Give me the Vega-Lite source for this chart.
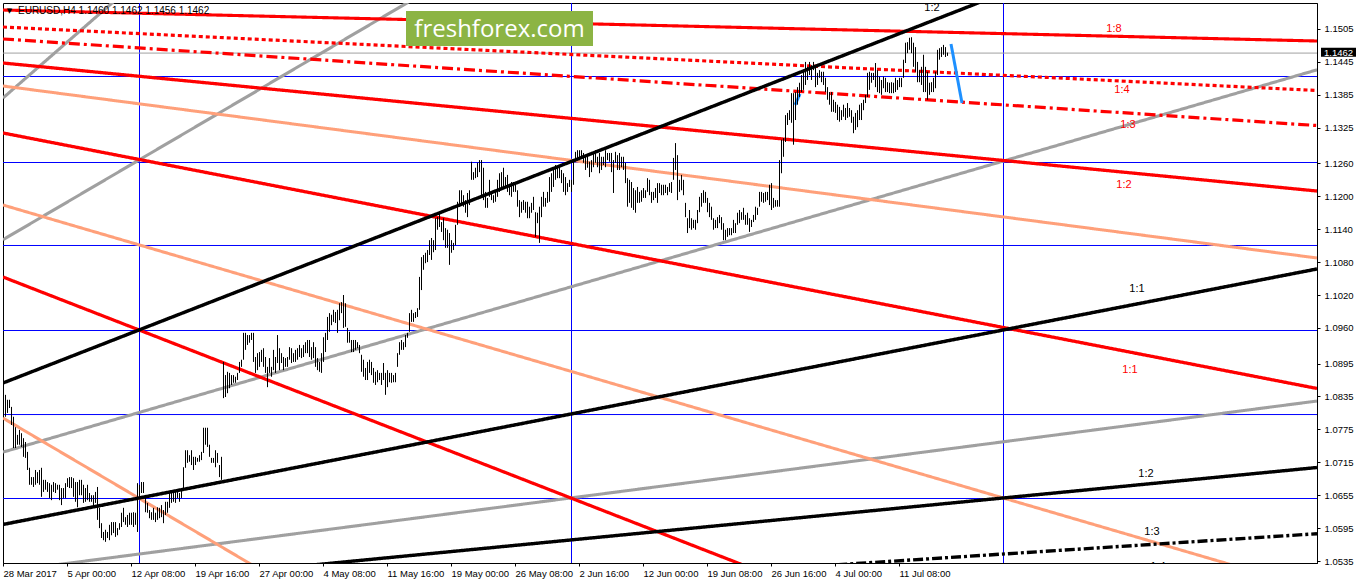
{
  "$schema": "https://vega.github.io/schema/vega-lite/v6.json",
  "width": 1314,
  "height": 560,
  "autosize": {"type": "none"},
  "padding": {"left": 3, "top": 3, "right": 41, "bottom": 21},
  "background": "white",
  "config": {
    "view": {"stroke": "black", "strokeWidth": 1},
    "axis": {"domainColor": "black", "tickColor": "black", "tickSize": 3, "labelFont": "Liberation Sans", "labelFontSize": 9.5, "labelColor": "black", "grid": false, "labelOverlap": false, "labelFlush": false, "labelBound": false}
  },
  "datasets": {
    "hlev": [
      {"p": 1.14193, "s": "blue"}, {"p": 1.12625, "s": "blue"}, {"p": 1.11112, "s": "blue"},
      {"p": 1.09562, "s": "blue"}, {"p": 1.0803, "s": "blue"}, {"p": 1.06499, "s": "blue"},
      {"p": 1.1462, "s": "gray"}
    ],
    "vlev": [{"b": 68}, {"b": 284}, {"b": 500}],
    "seg": [
      {"s": "gray", "b1": 0, "p1": 1.07336, "b2": 657, "p2": 1.14306},
      {"s": "gray", "b1": 0, "p1": 1.05155, "b2": 657, "p2": 1.08267},
      {"s": "gray", "b1": 0, "p1": 1.13792, "b2": 62, "p2": 1.15761},
      {"s": "gray", "b1": 0, "p1": 1.11208, "b2": 213, "p2": 1.15761},
      {"s": "salmon", "b1": 0, "p1": 1.14011, "b2": 657, "p2": 1.10875},
      {"s": "salmon", "b1": 0, "p1": 1.07957, "b2": 130, "p2": 1.05162},
      {"s": "salmon", "b1": 0, "p1": 1.11841, "b2": 657, "p2": 1.04824},
      {"s": "red1", "b1": 0, "p1": 1.15396, "b2": 657, "p2": 1.14831},
      {"s": "reddot", "b1": 0, "p1": 1.15086, "b2": 657, "p2": 1.13929},
      {"s": "reddd", "b1": 0, "p1": 1.14868, "b2": 657, "p2": 1.1329},
      {"s": "red3", "b1": 0, "p1": 1.1443, "b2": 657, "p2": 1.12096},
      {"s": "red35", "b1": 0, "p1": 1.13154, "b2": 657, "p2": 1.08496},
      {"s": "red25", "b1": 0, "p1": 1.10528, "b2": 380, "p2": 1.05136},
      {"s": "blk35", "b1": 0, "p1": 1.06017, "b2": 657, "p2": 1.10675},
      {"s": "blk3", "b1": 0, "p1": 1.08596, "b2": 657, "p2": 1.17934},
      {"s": "blk25", "b1": 0, "p1": 1.04729, "b2": 657, "p2": 1.07055},
      {"s": "blkdd", "b1": 0, "p1": 1.04297, "b2": 657, "p2": 1.05848},
      {"s": "lblue", "b1": 474, "p1": 1.14777, "b2": 479.5, "p2": 1.13701},
      {"s": "lblue", "b1": 396, "p1": 1.13665, "b2": 398.5, "p2": 1.13865}
    ],
    "ann": [
      {"s": "blk1", "b": 464.5, "p": 1.15424, "t": "1:2"},
      {"s": "red1", "b": 555.5, "p": 1.1505, "t": "1:8"},
      {"s": "red1", "b": 559.5, "p": 1.13938, "t": "1:4"},
      {"s": "red1", "b": 562.5, "p": 1.13291, "t": "1:3"},
      {"s": "red1", "b": 560.5, "p": 1.12206, "t": "1:2"},
      {"s": "blk1", "b": 567, "p": 1.10309, "t": "1:1"},
      {"s": "red1", "b": 563.5, "p": 1.08833, "t": "1:1"},
      {"s": "blk1", "b": 571.5, "p": 1.06937, "t": "1:2"},
      {"s": "blk1", "b": 574.5, "p": 1.05879, "t": "1:3"},
      {"s": "blk1", "b": 577.5, "p": 1.05241, "t": "1:4"}
    ],
    "bars": [
      {"b":0,"h":1.0856,"l":1.0798},{"b":1,"h":1.0838,"l":1.0798},{"b":2,"h":1.0829,"l":1.0805},{"b":3,"h":1.0829,"l":1.0814},
      {"b":4,"h":1.0816,"l":1.0783},{"b":5,"h":1.0798,"l":1.0741},{"b":6,"h":1.0779,"l":1.0741},{"b":7,"h":1.0765,"l":1.0747},
      {"b":8,"h":1.0774,"l":1.0747},{"b":9,"h":1.0768,"l":1.0743},{"b":10,"h":1.0759,"l":1.0725},{"b":11,"h":1.0752,"l":1.0723},
      {"b":12,"h":1.0734,"l":1.0701},{"b":13,"h":1.0705,"l":1.0674},{"b":14,"h":1.0688,"l":1.0674},{"b":15,"h":1.0688,"l":1.067},
      {"b":16,"h":1.0701,"l":1.0674},{"b":17,"h":1.0697,"l":1.0677},{"b":18,"h":1.0701,"l":1.0674},{"b":19,"h":1.0705,"l":1.0652},
      {"b":20,"h":1.0683,"l":1.0661},{"b":21,"h":1.0683,"l":1.0665},{"b":22,"h":1.0679,"l":1.0661},{"b":23,"h":1.0677,"l":1.065},
      {"b":24,"h":1.0674,"l":1.0646},{"b":25,"h":1.0679,"l":1.0661},{"b":26,"h":1.0677,"l":1.0659},{"b":27,"h":1.0674,"l":1.0665},
      {"b":28,"h":1.0674,"l":1.0646},{"b":29,"h":1.0668,"l":1.0637},{"b":30,"h":1.0668,"l":1.065},{"b":31,"h":1.0677,"l":1.065},
      {"b":32,"h":1.0686,"l":1.067},{"b":33,"h":1.0688,"l":1.0668},{"b":34,"h":1.0688,"l":1.0668},{"b":35,"h":1.0686,"l":1.0652},
      {"b":36,"h":1.0679,"l":1.0643},{"b":37,"h":1.0679,"l":1.0633},{"b":38,"h":1.0683,"l":1.0655},{"b":39,"h":1.0683,"l":1.0655},
      {"b":40,"h":1.0674,"l":1.0641},{"b":41,"h":1.0668,"l":1.0643},{"b":42,"h":1.0674,"l":1.0646},{"b":43,"h":1.0659,"l":1.0643},
      {"b":44,"h":1.0655,"l":1.0643},{"b":45,"h":1.0655,"l":1.0633},{"b":46,"h":1.0661,"l":1.0641},{"b":47,"h":1.067,"l":1.061},
      {"b":48,"h":1.0632,"l":1.0595},{"b":49,"h":1.0604,"l":1.0577},{"b":50,"h":1.0588,"l":1.0573},{"b":51,"h":1.0592,"l":1.057},
      {"b":52,"h":1.0588,"l":1.0577},{"b":53,"h":1.0601,"l":1.0573},{"b":54,"h":1.0606,"l":1.0582},{"b":55,"h":1.0606,"l":1.0586},
      {"b":56,"h":1.0606,"l":1.0579},{"b":57,"h":1.0595,"l":1.0582},{"b":58,"h":1.0604,"l":1.0592},{"b":59,"h":1.0623,"l":1.0597},
      {"b":60,"h":1.0632,"l":1.0606},{"b":61,"h":1.0615,"l":1.0601},{"b":62,"h":1.0619,"l":1.0597},{"b":63,"h":1.0623,"l":1.0601},
      {"b":64,"h":1.0623,"l":1.0601},{"b":65,"h":1.0624,"l":1.0597},{"b":66,"h":1.0623,"l":1.0601},{"b":67,"h":1.0677,"l":1.0588},
      {"b":68,"h":1.0674,"l":1.0652},{"b":69,"h":1.0679,"l":1.0659},{"b":70,"h":1.0679,"l":1.0659},{"b":71,"h":1.065,"l":1.0624},
      {"b":72,"h":1.0641,"l":1.0623},{"b":73,"h":1.0628,"l":1.0613},{"b":74,"h":1.0624,"l":1.061},{"b":75,"h":1.0632,"l":1.061},
      {"b":76,"h":1.0623,"l":1.0606},{"b":77,"h":1.0633,"l":1.061},{"b":78,"h":1.0632,"l":1.0613},{"b":79,"h":1.0637,"l":1.0615},
      {"b":80,"h":1.0628,"l":1.0604},{"b":81,"h":1.0643,"l":1.0619},{"b":82,"h":1.0643,"l":1.0623},{"b":83,"h":1.0659,"l":1.0632},
      {"b":84,"h":1.0661,"l":1.0641},{"b":85,"h":1.0661,"l":1.0643},{"b":86,"h":1.0661,"l":1.0641},{"b":87,"h":1.0661,"l":1.065},
      {"b":88,"h":1.0659,"l":1.0643},{"b":89,"h":1.0665,"l":1.065},{"b":90,"h":1.0706,"l":1.0665},{"b":91,"h":1.0737,"l":1.0705},
      {"b":92,"h":1.0737,"l":1.0714},{"b":93,"h":1.0728,"l":1.0716},{"b":94,"h":1.0737,"l":1.071},{"b":95,"h":1.0725,"l":1.0701},
      {"b":96,"h":1.0725,"l":1.071},{"b":97,"h":1.0723,"l":1.0716},{"b":98,"h":1.0728,"l":1.0716},{"b":99,"h":1.0734,"l":1.0719},
      {"b":100,"h":1.0778,"l":1.0732},{"b":101,"h":1.0778,"l":1.0747},{"b":102,"h":1.0778,"l":1.0743},{"b":103,"h":1.0747,"l":1.0725},
      {"b":104,"h":1.0723,"l":1.0714},{"b":105,"h":1.0723,"l":1.0714},{"b":106,"h":1.0737,"l":1.0706},{"b":107,"h":1.0732,"l":1.0714},
      {"b":108,"h":1.071,"l":1.0688},{"b":109,"h":1.0725,"l":1.0683},{"b":110,"h":1.0898,"l":1.0832},{"b":111,"h":1.0874,"l":1.0834},
      {"b":112,"h":1.088,"l":1.0841},{"b":113,"h":1.0878,"l":1.085},{"b":114,"h":1.0874,"l":1.0856},{"b":115,"h":1.0874,"l":1.086},
      {"b":116,"h":1.0871,"l":1.086},{"b":117,"h":1.0878,"l":1.0865},{"b":118,"h":1.0898,"l":1.0878},{"b":119,"h":1.0902,"l":1.0889},
      {"b":120,"h":1.0951,"l":1.0902},{"b":121,"h":1.0951,"l":1.092},{"b":122,"h":1.0947,"l":1.0929},{"b":123,"h":1.0947,"l":1.0933},
      {"b":124,"h":1.0951,"l":1.0938},{"b":125,"h":1.0951,"l":1.0898},{"b":126,"h":1.0907,"l":1.0878},{"b":127,"h":1.0914,"l":1.0883},
      {"b":128,"h":1.0916,"l":1.0889},{"b":129,"h":1.092,"l":1.0898},{"b":130,"h":1.0923,"l":1.0889},{"b":131,"h":1.0907,"l":1.0878},
      {"b":132,"h":1.0889,"l":1.0852},{"b":133,"h":1.0905,"l":1.0878},{"b":134,"h":1.0889,"l":1.0871},{"b":135,"h":1.092,"l":1.0883},
      {"b":136,"h":1.0907,"l":1.0878},{"b":137,"h":1.0947,"l":1.0896},{"b":138,"h":1.0923,"l":1.0883},{"b":139,"h":1.0914,"l":1.0896},
      {"b":140,"h":1.0907,"l":1.0883},{"b":141,"h":1.0905,"l":1.0889},{"b":142,"h":1.0907,"l":1.0889},{"b":143,"h":1.0925,"l":1.0902},
      {"b":144,"h":1.0923,"l":1.0896},{"b":145,"h":1.0914,"l":1.0898},{"b":146,"h":1.092,"l":1.0898},{"b":147,"h":1.0923,"l":1.0902},
      {"b":148,"h":1.0929,"l":1.0907},{"b":149,"h":1.0923,"l":1.0905},{"b":150,"h":1.0929,"l":1.0907},{"b":151,"h":1.0934,"l":1.0914},
      {"b":152,"h":1.0938,"l":1.0914},{"b":153,"h":1.0938,"l":1.0907},{"b":154,"h":1.0925,"l":1.0902},{"b":155,"h":1.0934,"l":1.0905},
      {"b":156,"h":1.0925,"l":1.0889},{"b":157,"h":1.0905,"l":1.0883},{"b":158,"h":1.0898,"l":1.088},{"b":159,"h":1.0914,"l":1.0878},
      {"b":160,"h":1.0943,"l":1.0898},{"b":161,"h":1.0951,"l":1.0916},{"b":162,"h":1.098,"l":1.0938},{"b":163,"h":1.0987,"l":1.0953},
      {"b":164,"h":1.0984,"l":1.0965},{"b":165,"h":1.0993,"l":1.0971},{"b":166,"h":1.0989,"l":1.0969},{"b":167,"h":1.0993,"l":1.0951},
      {"b":168,"h":1.1005,"l":1.0974},{"b":169,"h":1.1007,"l":1.0987},{"b":170,"h":1.102,"l":1.096},{"b":171,"h":1.1005,"l":1.0962},
      {"b":172,"h":1.096,"l":1.0933},{"b":173,"h":1.0953,"l":1.0933},{"b":174,"h":1.0938,"l":1.0916},{"b":175,"h":1.0938,"l":1.0916},
      {"b":176,"h":1.0938,"l":1.092},{"b":177,"h":1.0934,"l":1.0923},{"b":178,"h":1.0929,"l":1.0914},{"b":179,"h":1.0911,"l":1.088},
      {"b":180,"h":1.0902,"l":1.0871},{"b":181,"h":1.0887,"l":1.0865},{"b":182,"h":1.0898,"l":1.0865},{"b":183,"h":1.0902,"l":1.0878},
      {"b":184,"h":1.0898,"l":1.0874},{"b":185,"h":1.0887,"l":1.086},{"b":186,"h":1.088,"l":1.0856},{"b":187,"h":1.0883,"l":1.0861},
      {"b":188,"h":1.0878,"l":1.0865},{"b":189,"h":1.0878,"l":1.0856},{"b":190,"h":1.0896,"l":1.0865},{"b":191,"h":1.0878,"l":1.0838},
      {"b":192,"h":1.0883,"l":1.0852},{"b":193,"h":1.0878,"l":1.0861},{"b":194,"h":1.0878,"l":1.086},{"b":195,"h":1.0874,"l":1.0861},
      {"b":196,"h":1.0878,"l":1.0861},{"b":197,"h":1.0914,"l":1.0889},{"b":198,"h":1.0934,"l":1.0911},{"b":199,"h":1.0938,"l":1.092},
      {"b":200,"h":1.0934,"l":1.092},{"b":201,"h":1.0947,"l":1.0925},{"b":202,"h":1.0951,"l":1.0942},{"b":203,"h":1.0987,"l":1.0953},
      {"b":204,"h":1.0993,"l":1.0971},{"b":205,"h":1.0987,"l":1.0971},{"b":206,"h":1.0989,"l":1.0978},{"b":207,"h":1.0996,"l":1.098},
      {"b":208,"h":1.1053,"l":1.0993},{"b":209,"h":1.1089,"l":1.1029},{"b":210,"h":1.1093,"l":1.1066},{"b":211,"h":1.1097,"l":1.1078},
      {"b":212,"h":1.1102,"l":1.108},{"b":213,"h":1.112,"l":1.1093},{"b":214,"h":1.1124,"l":1.1084},{"b":215,"h":1.112,"l":1.1098},
      {"b":216,"h":1.116,"l":1.1102},{"b":217,"h":1.1162,"l":1.1139},{"b":218,"h":1.1171,"l":1.1144},{"b":219,"h":1.1153,"l":1.1135},
      {"b":220,"h":1.116,"l":1.112},{"b":221,"h":1.1142,"l":1.1106},{"b":222,"h":1.1139,"l":1.1106},{"b":223,"h":1.1133,"l":1.1075},
      {"b":224,"h":1.112,"l":1.1097},{"b":225,"h":1.1115,"l":1.1102},{"b":226,"h":1.1148,"l":1.1111},{"b":227,"h":1.119,"l":1.1148},
      {"b":228,"h":1.1211,"l":1.1181},{"b":229,"h":1.1211,"l":1.1184},{"b":230,"h":1.1202,"l":1.1181},{"b":231,"h":1.1193,"l":1.117},
      {"b":232,"h":1.1206,"l":1.1162},{"b":233,"h":1.1211,"l":1.1184},{"b":234,"h":1.1263,"l":1.123},{"b":235,"h":1.1244,"l":1.123},
      {"b":236,"h":1.1252,"l":1.1233},{"b":237,"h":1.1261,"l":1.1235},{"b":238,"h":1.1266,"l":1.1244},{"b":239,"h":1.1266,"l":1.1202},
      {"b":240,"h":1.1252,"l":1.1193},{"b":241,"h":1.1208,"l":1.1179},{"b":242,"h":1.1197,"l":1.1179},{"b":243,"h":1.123,"l":1.1199},
      {"b":244,"h":1.1208,"l":1.1193},{"b":245,"h":1.1202,"l":1.1188},{"b":246,"h":1.1211,"l":1.119},{"b":247,"h":1.123,"l":1.1199},
      {"b":248,"h":1.1242,"l":1.1208},{"b":249,"h":1.1244,"l":1.1217},{"b":250,"h":1.1252,"l":1.1217},{"b":251,"h":1.1235,"l":1.1215},
      {"b":252,"h":1.1239,"l":1.1208},{"b":253,"h":1.1217,"l":1.1202},{"b":254,"h":1.1226,"l":1.1199},{"b":255,"h":1.1226,"l":1.1208},
      {"b":256,"h":1.1226,"l":1.1208},{"b":257,"h":1.1211,"l":1.1181},{"b":258,"h":1.1193,"l":1.1162},{"b":259,"h":1.119,"l":1.117},
      {"b":260,"h":1.1193,"l":1.1175},{"b":261,"h":1.119,"l":1.117},{"b":262,"h":1.119,"l":1.116},{"b":263,"h":1.1181,"l":1.116},
      {"b":264,"h":1.1188,"l":1.117},{"b":265,"h":1.1199,"l":1.1175},{"b":266,"h":1.1171,"l":1.1126},{"b":267,"h":1.117,"l":1.1151},
      {"b":268,"h":1.1181,"l":1.1115},{"b":269,"h":1.1199,"l":1.1162},{"b":270,"h":1.1208,"l":1.1181},{"b":271,"h":1.1197,"l":1.1181},
      {"b":272,"h":1.1208,"l":1.1188},{"b":273,"h":1.1235,"l":1.119},{"b":274,"h":1.1242,"l":1.1208},{"b":275,"h":1.1253,"l":1.1217},
      {"b":276,"h":1.1257,"l":1.123},{"b":277,"h":1.1253,"l":1.1233},{"b":278,"h":1.1253,"l":1.1233},{"b":279,"h":1.1248,"l":1.1224},
      {"b":280,"h":1.1242,"l":1.1208},{"b":281,"h":1.1235,"l":1.1202},{"b":282,"h":1.1224,"l":1.1208},{"b":283,"h":1.123,"l":1.1217},
      {"b":284,"h":1.123,"l":1.1208},{"b":285,"h":1.1263,"l":1.1221},{"b":286,"h":1.1281,"l":1.1263},{"b":287,"h":1.1284,"l":1.127},
      {"b":288,"h":1.1284,"l":1.1266},{"b":289,"h":1.1284,"l":1.127},{"b":290,"h":1.1279,"l":1.1261},{"b":291,"h":1.1272,"l":1.1248},
      {"b":292,"h":1.1272,"l":1.1252},{"b":293,"h":1.1263,"l":1.1235},{"b":294,"h":1.1266,"l":1.1244},{"b":295,"h":1.1279,"l":1.1253},
      {"b":296,"h":1.1284,"l":1.1261},{"b":297,"h":1.1272,"l":1.1253},{"b":298,"h":1.1279,"l":1.1242},{"b":299,"h":1.1272,"l":1.1248},
      {"b":300,"h":1.1272,"l":1.1257},{"b":301,"h":1.1284,"l":1.1253},{"b":302,"h":1.1279,"l":1.1266},{"b":303,"h":1.1279,"l":1.1263},
      {"b":304,"h":1.1279,"l":1.1244},{"b":305,"h":1.1266,"l":1.1206},{"b":306,"h":1.1281,"l":1.1261},{"b":307,"h":1.1275,"l":1.1248},
      {"b":308,"h":1.1279,"l":1.1248},{"b":309,"h":1.1272,"l":1.1253},{"b":310,"h":1.1272,"l":1.1248},{"b":311,"h":1.1261,"l":1.1224},
      {"b":312,"h":1.1233,"l":1.1181},{"b":313,"h":1.123,"l":1.1188},{"b":314,"h":1.1226,"l":1.1179},{"b":315,"h":1.1215,"l":1.1175},
      {"b":316,"h":1.1211,"l":1.117},{"b":317,"h":1.1217,"l":1.1188},{"b":318,"h":1.1208,"l":1.1188},{"b":319,"h":1.1211,"l":1.119},
      {"b":320,"h":1.1215,"l":1.1197},{"b":321,"h":1.1211,"l":1.1197},{"b":322,"h":1.1233,"l":1.1208},{"b":323,"h":1.123,"l":1.1202},
      {"b":324,"h":1.1208,"l":1.1188},{"b":325,"h":1.1208,"l":1.1193},{"b":326,"h":1.1215,"l":1.1197},{"b":327,"h":1.1224,"l":1.1188},
      {"b":328,"h":1.1224,"l":1.1206},{"b":329,"h":1.1221,"l":1.1202},{"b":330,"h":1.1221,"l":1.1202},{"b":331,"h":1.1221,"l":1.1206},
      {"b":332,"h":1.1217,"l":1.1202},{"b":333,"h":1.1224,"l":1.1208},{"b":334,"h":1.1226,"l":1.1206},{"b":335,"h":1.127,"l":1.123},
      {"b":336,"h":1.1297,"l":1.1248},{"b":337,"h":1.1275,"l":1.1193},{"b":338,"h":1.123,"l":1.1208},{"b":339,"h":1.1239,"l":1.1211},
      {"b":340,"h":1.123,"l":1.1202},{"b":341,"h":1.1188,"l":1.1162},{"b":342,"h":1.116,"l":1.1133},{"b":343,"h":1.1175,"l":1.1142},
      {"b":344,"h":1.116,"l":1.1139},{"b":345,"h":1.1157,"l":1.1142},{"b":346,"h":1.1157,"l":1.1139},{"b":347,"h":1.1175,"l":1.1151},
      {"b":348,"h":1.1199,"l":1.1171},{"b":349,"h":1.1206,"l":1.1181},{"b":350,"h":1.1211,"l":1.1188},{"b":351,"h":1.1208,"l":1.1188},
      {"b":352,"h":1.1197,"l":1.1171},{"b":353,"h":1.1188,"l":1.1162},{"b":354,"h":1.1181,"l":1.1157},{"b":355,"h":1.116,"l":1.1139},
      {"b":356,"h":1.1157,"l":1.1142},{"b":357,"h":1.1162,"l":1.1142},{"b":358,"h":1.1166,"l":1.1151},{"b":359,"h":1.1162,"l":1.1139},
      {"b":360,"h":1.1151,"l":1.112},{"b":361,"h":1.1139,"l":1.112},{"b":362,"h":1.1142,"l":1.1126},{"b":363,"h":1.1142,"l":1.1129},
      {"b":364,"h":1.1142,"l":1.1129},{"b":365,"h":1.1157,"l":1.1133},{"b":366,"h":1.1151,"l":1.1133},{"b":367,"h":1.117,"l":1.1148},
      {"b":368,"h":1.1175,"l":1.1151},{"b":369,"h":1.1171,"l":1.1157},{"b":370,"h":1.1179,"l":1.1157},{"b":371,"h":1.1166,"l":1.1148},
      {"b":372,"h":1.117,"l":1.1148},{"b":373,"h":1.116,"l":1.1135},{"b":374,"h":1.1157,"l":1.1144},{"b":375,"h":1.1166,"l":1.1153},
      {"b":376,"h":1.1181,"l":1.1157},{"b":377,"h":1.1179,"l":1.1166},{"b":378,"h":1.1208,"l":1.1181},{"b":379,"h":1.1208,"l":1.119},
      {"b":380,"h":1.1206,"l":1.1188},{"b":381,"h":1.1208,"l":1.119},{"b":382,"h":1.1208,"l":1.1193},{"b":383,"h":1.1221,"l":1.1184},
      {"b":384,"h":1.1224,"l":1.1175},{"b":385,"h":1.1197,"l":1.1179},{"b":386,"h":1.1193,"l":1.1181},{"b":387,"h":1.1193,"l":1.1181},
      {"b":388,"h":1.1266,"l":1.1181},{"b":389,"h":1.1303,"l":1.1242},{"b":390,"h":1.1306,"l":1.1272},{"b":391,"h":1.1348,"l":1.1299},
      {"b":392,"h":1.1352,"l":1.133},{"b":393,"h":1.1357,"l":1.1339},{"b":394,"h":1.1388,"l":1.1334},{"b":395,"h":1.1388,"l":1.1294},
      {"b":396,"h":1.139,"l":1.1339},{"b":397,"h":1.1399,"l":1.1367},{"b":398,"h":1.1407,"l":1.1381},{"b":399,"h":1.1421,"l":1.139},
      {"b":400,"h":1.143,"l":1.1394},{"b":401,"h":1.1445,"l":1.1403},{"b":402,"h":1.1436,"l":1.1412},{"b":403,"h":1.1445,"l":1.1421},
      {"b":404,"h":1.1439,"l":1.1412},{"b":405,"h":1.1445,"l":1.143},{"b":406,"h":1.1436,"l":1.1399},{"b":407,"h":1.1425,"l":1.1403},
      {"b":408,"h":1.143,"l":1.1416},{"b":409,"h":1.1427,"l":1.1408},{"b":410,"h":1.1427,"l":1.1403},{"b":411,"h":1.1416,"l":1.139},
      {"b":412,"h":1.1399,"l":1.1376},{"b":413,"h":1.139,"l":1.1367},{"b":414,"h":1.139,"l":1.1354},{"b":415,"h":1.1376,"l":1.1354},
      {"b":416,"h":1.1372,"l":1.1352},{"b":417,"h":1.1367,"l":1.1339},{"b":418,"h":1.1363,"l":1.1336},{"b":419,"h":1.1357,"l":1.1339},
      {"b":420,"h":1.1367,"l":1.1345},{"b":421,"h":1.1361,"l":1.1339},{"b":422,"h":1.137,"l":1.1343},{"b":423,"h":1.1361,"l":1.1345},
      {"b":424,"h":1.1357,"l":1.1334},{"b":425,"h":1.1345,"l":1.1315},{"b":426,"h":1.1352,"l":1.1321},{"b":427,"h":1.1357,"l":1.1326},
      {"b":428,"h":1.1367,"l":1.1339},{"b":429,"h":1.137,"l":1.1339},{"b":430,"h":1.1376,"l":1.1357},{"b":431,"h":1.1385,"l":1.137},
      {"b":432,"h":1.1425,"l":1.1381},{"b":433,"h":1.1427,"l":1.1394},{"b":434,"h":1.1425,"l":1.1407},{"b":435,"h":1.1425,"l":1.1412},
      {"b":436,"h":1.1443,"l":1.1399},{"b":437,"h":1.143,"l":1.139},{"b":438,"h":1.1418,"l":1.1388},{"b":439,"h":1.1412,"l":1.1385},
      {"b":440,"h":1.1418,"l":1.1397},{"b":441,"h":1.1416,"l":1.139},{"b":442,"h":1.1408,"l":1.139},{"b":443,"h":1.1407,"l":1.1388},
      {"b":444,"h":1.1408,"l":1.1388},{"b":445,"h":1.1407,"l":1.1388},{"b":446,"h":1.1416,"l":1.139},{"b":447,"h":1.1412,"l":1.1394},
      {"b":448,"h":1.1416,"l":1.1399},{"b":449,"h":1.1416,"l":1.1399},{"b":450,"h":1.1449,"l":1.1416},{"b":451,"h":1.148,"l":1.1443},
      {"b":452,"h":1.1481,"l":1.1461},{"b":453,"h":1.1489,"l":1.1467},{"b":454,"h":1.149,"l":1.1461},{"b":455,"h":1.148,"l":1.1436},
      {"b":456,"h":1.1472,"l":1.1427},{"b":457,"h":1.1445,"l":1.1408},{"b":458,"h":1.143,"l":1.1408},{"b":459,"h":1.1436,"l":1.1403},
      {"b":460,"h":1.1458,"l":1.139},{"b":461,"h":1.1436,"l":1.139},{"b":462,"h":1.1427,"l":1.1376},{"b":463,"h":1.1407,"l":1.1385},
      {"b":464,"h":1.1408,"l":1.139},{"b":465,"h":1.1416,"l":1.139},{"b":466,"h":1.1427,"l":1.1397},{"b":467,"h":1.1467,"l":1.1421},
      {"b":468,"h":1.147,"l":1.1449},{"b":469,"h":1.1472,"l":1.1454},{"b":470,"h":1.1476,"l":1.1458},{"b":471,"h":1.1472,"l":1.1454},
      {"b":472,"h":1.1462,"l":1.1456}
    ]
  },
  "encoding": {
    "x": {"type": "quantitative", "scale": {"domain": [0, 657], "nice": false, "zero": false},
      "axis": {"orient": "bottom", "title": null,
        "values": [0, 32, 64, 96, 128, 160, 192, 224, 256, 288, 320, 352, 384, 416, 448],
        "labelExpr": "['28 Mar 2017','5 Apr 00:00','12 Apr 08:00','19 Apr 16:00','27 Apr 00:00','4 May 08:00','11 May 16:00','19 May 00:00','26 May 08:00','2 Jun 16:00','12 Jun 00:00','19 Jun 08:00','26 Jun 16:00','4 Jul 00:00','11 Jul 08:00'][round(datum.value / 32)]",
        "labelAlign": "left", "labelBaseline": "top", "labelPadding": 2, "labelAngle": 0}},
    "y": {"type": "quantitative", "scale": {"domain": [1.05314, 1.15524], "nice": false, "zero": false},
      "axis": {"orient": "right", "title": null, "format": ".4f", "labelPadding": 4,
        "values": [1.0535, 1.0595, 1.0655, 1.0715, 1.0775, 1.0835, 1.0895, 1.096, 1.102, 1.108, 1.114, 1.12, 1.126, 1.1325, 1.1385, 1.1445, 1.1505]}}
  },
  "layer": [
    {
      "data": {"name": "vlev"},
      "mark": {"type": "rule", "color": "#0000ff", "strokeWidth": 1, "xOffset": 0.5},
      "encoding": {"x": {"field": "b"}, "y": null}
    },
    {
      "data": {"name": "hlev"},
      "mark": {"type": "rule", "strokeWidth": 1, "yOffset": 0.5},
      "encoding": {
        "x": null,
        "y": {"field": "p"},
        "color": {"field": "s", "type": "nominal", "legend": null,
          "scale": {"domain": ["blk35", "blk3", "blk25", "blkdd", "red35", "red3", "red25", "reddd", "reddot", "red1", "gray", "salmon", "lblue", "blue", "blk1"],
            "range": ["#000000", "#000000", "#000000", "#000000", "#ff0000", "#ff0000", "#ff0000", "#ff0000", "#ff0000", "#ff0000", "#a0a0a0", "#ffa07a", "#1e90ff", "#0000ff", "#000000"]}}
      }
    },
    {
      "data": {"name": "seg"},
      "mark": {"type": "rule", "clip": true},
      "encoding": {
        "x": {"field": "b1"},
        "x2": {"field": "b2"},
        "y": {"field": "p1"},
        "y2": {"field": "p2"},
        "color": {"field": "s", "type": "nominal", "legend": null},
        "strokeWidth": {"field": "s", "type": "ordinal", "legend": null,
          "scale": {"domain": ["blk35", "blk3", "blk25", "blkdd", "red35", "red3", "red25", "reddd", "reddot", "red1", "gray", "salmon", "lblue"],
            "range": [3.5, 3, 2.5, 1, 3.5, 3, 2.5, 0.9, 0.9, 0.9, 0.8, 0.8, 1.5]}},
        "strokeDash": {"field": "s", "type": "nominal", "legend": null,
          "scale": {"domain": ["blk35", "blk3", "blk25", "blkdd", "red35", "red3", "red25", "reddd", "reddot", "red1", "gray", "salmon", "lblue"],
            "range": [[1, 0], [1, 0], [1, 0], [10, 3, 3, 3], [1, 0], [1, 0], [1, 0], [11, 4, 3, 4], [4, 3], [1, 0], [1, 0], [1, 0], [1, 0]]}}
      }
    },
    {
      "data": {"name": "bars"},
      "mark": {"type": "rule", "color": "black", "strokeWidth": 1, "xOffset": 0.5},
      "encoding": {"x": {"field": "b"}, "y": {"field": "h"}, "y2": {"field": "l"}}
    },
    {
      "data": {"values": [{"b1": 201.5, "b2": 295, "p1": 1.15378, "p2": 1.1474}]},
      "mark": {"type": "rect", "color": "#8cb444"},
      "encoding": {"x": {"field": "b1"}, "x2": {"field": "b2"}, "y": {"field": "p1"}, "y2": {"field": "p2"}}
    },
    {
      "data": {"values": [{"b": 248.25, "p": 1.149, "t": "freshforex.com"}]},
      "mark": {"type": "text", "color": "white", "font": "Open Sans", "fontSize": 24, "align": "center", "baseline": "alphabetic"},
      "encoding": {"x": {"field": "b"}, "y": {"field": "p"}, "text": {"field": "t"}}
    },
    {
      "data": {"name": "ann"},
      "mark": {"type": "text", "font": "Liberation Sans", "fontSize": 11, "align": "center", "baseline": "middle", "clip": true},
      "encoding": {
        "x": {"field": "b"}, "y": {"field": "p"}, "text": {"field": "t"},
        "color": {"field": "s", "type": "nominal", "legend": null}
      }
    },
    {
      "data": {"values": [{"b": 3.25, "p": 1.15378, "t": "▼"}]},
      "mark": {"type": "text", "color": "black", "font": "DejaVu Sans", "fontSize": 7, "align": "center", "baseline": "middle"},
      "encoding": {"x": {"field": "b"}, "y": {"field": "p"}, "text": {"field": "t"}}
    },
    {
      "data": {"values": [{"b": 7.5, "p": 1.15384, "t": "EURUSD,H4  1.1460 1.1462 1.1456 1.1462"}]},
      "mark": {"type": "text", "color": "black", "font": "Liberation Sans", "fontSize": 10, "align": "left", "baseline": "middle"},
      "encoding": {"x": {"field": "b"}, "y": {"field": "p"}, "text": {"field": "t"}}
    },
    {
      "data": {"values": [{"b1": 659, "b2": 676.5, "p1": 1.14709, "p2": 1.14545}]},
      "mark": {"type": "rect", "color": "black"},
      "encoding": {"x": {"field": "b1"}, "x2": {"field": "b2"}, "y": {"field": "p1"}, "y2": {"field": "p2"}}
    },
    {
      "data": {"values": [{"b": 660.5, "p": 1.1462, "t": "1.1462"}]},
      "mark": {"type": "text", "color": "white", "font": "Liberation Sans", "fontSize": 9.5, "align": "left", "baseline": "middle"},
      "encoding": {"x": {"field": "b"}, "y": {"field": "p"}, "text": {"field": "t"}}
    }
  ]
}
